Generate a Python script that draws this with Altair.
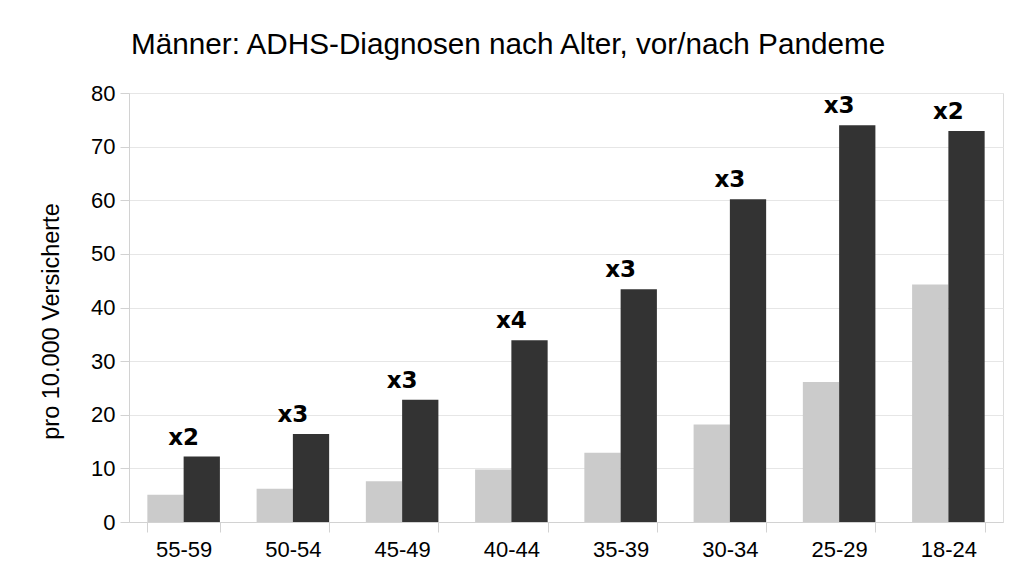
import altair as alt
import pandas as pd

ages = ["55-59", "50-54", "45-49", "40-44", "35-39", "30-34", "25-29", "18-24"]
vor = [5.1, 6.2, 7.6, 9.8, 12.9, 18.2, 26.1, 44.3]
nach = [12.2, 16.4, 22.8, 33.9, 43.4, 60.2, 74.0, 72.9]
faktor = ["x2", "x3", "x3", "x4", "x3", "x3", "x3", "x2"]
perioden = ["vor", "nach"]
farben = ["#cbcbcb", "#333333"]

df = pd.DataFrame({
    "Alter": ages * 2,
    "Periode": ["vor"] * len(ages) + ["nach"] * len(ages),
    "Wert": vor + nach,
})
labels = pd.DataFrame({"Alter": ages, "Wert": nach, "Faktor": faktor})

x = alt.X(
    "Alter:N",
    sort=ages,
    title=None,
    scale=alt.Scale(paddingInner=0.336, paddingOuter=0.168),
    axis=alt.Axis(labelAngle=0, tickBand="extent", tickSize=10,
                  labelPadding=7, grid=False),
)
y = alt.Y(
    "Wert:Q",
    title="pro 10.000 Versicherte",
    scale=alt.Scale(domain=[0, 80], nice=False),
    axis=alt.Axis(values=list(range(0, 81, 10)), tickSize=9, labelPadding=5,
                  titleX=-66, titleY=228, titleFontSize=23.5,
                  titleFontWeight="normal"),
)

bars = (
    alt.Chart(df)
    .mark_bar()
    .encode(
        x=x,
        y=y,
        xOffset=alt.XOffset("Periode:N", sort=perioden,
                            scale=alt.Scale(paddingInner=0, paddingOuter=0)),
        color=alt.Color("Periode:N", sort=perioden,
                        scale=alt.Scale(domain=perioden, range=farben),
                        legend=None),
    )
)

text = (
    alt.Chart(labels)
    .mark_text(dy=-12, baseline="alphabetic", font="DejaVu Sans",
               fontWeight="bold", fontSize=23, color="black")
    .encode(x=alt.X("Alter:N", sort=ages), y="Wert:Q", text="Faktor:N")
)

chart = (
    (bars + text)
    .properties(
        width=874,
        height=429,
        autosize=alt.AutoSizeParams(type="none"),
        padding={"left": 121, "top": 85, "right": 10, "bottom": 40},
        title=alt.TitleParams(
            "Männer: ADHS-Diagnosen nach Alter, vor/nach Pandeme",
            anchor="start", dx=92, offset=21, fontSize=29.7,
            fontWeight="normal", color="black",
        ),
    )
    .configure(font="Liberation Sans")
    .configure_view(stroke="#dcdcdc")
    .configure_axis(
        labelFontSize=22,
        labelColor="black",
        titleColor="black",
        gridColor="#e6e6e6",
        domainColor="#d2d2d2",
        tickColor="#d2d2d2",
    )
)

chart.save("out.html", embed_options={"renderer": "svg", "actions": False})
